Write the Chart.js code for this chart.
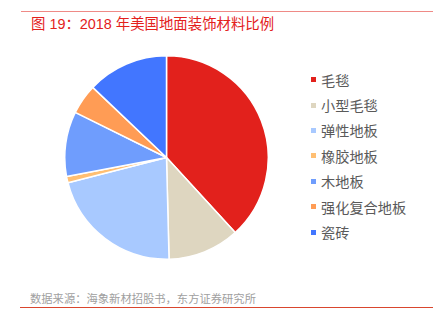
<!DOCTYPE html>
<html>
<head>
<meta charset="utf-8">
<script src="https://cdn.jsdelivr.net/npm/chart.js@4"></script>
<style>
  body { margin: 0; background: #fff; font-family: "Liberation Sans", "Noto Sans CJK SC", sans-serif; }
  #wrap { position: relative; width: 433px; height: 331px; overflow: hidden; }
  #topline { position: absolute; left: 21px; right: 0; top: 11px; height: 1px; background: #ef8a86; }
  #title { position: absolute; left: 31px; top: 12px; font-size: 14.4px; color: #e3211c; white-space: nowrap; }
  #pie { position: absolute; left: 64px; top: 55px; width: 205px; height: 205px; }
  #legend { position: absolute; left: 311px; top: 67px; }
  .item { height: 25.4px; display: flex; align-items: center; font-size: 14.2px; color: #5a5a5a; }
  .box { width: 5px; height: 5px; margin-right: 5px; }
  #source { position: absolute; left: 30px; top: 290px; font-size: 11.3px; color: #a0a0a0; white-space: nowrap; }
  #botline { position: absolute; left: 20px; right: 0; top: 307px; height: 1px; background: #d9462e; }
</style>
</head>
<body>
<div id="wrap">
  <div id="topline"></div>
  <div id="title">图 19：2018 年美国地面装饰材料比例</div>
  <div id="pie"><canvas id="c" width="205" height="205"></canvas></div>
  <div id="legend"></div>
  <div id="source">数据来源：海象新材招股书，东方证券研究所</div>
  <div id="botline"></div>
</div>
<script>
const categories = ['毛毯', '小型毛毯', '弹性地板', '橡胶地板', '木地板', '强化复合地板', '瓷砖'];
const shares = [38.2, 11.4, 21.4, 1.0, 10.3, 4.8, 12.9];
const colors = ['#e2211c', '#ded6c0', '#a8c9ff', '#ffbf73', '#6f9dfd', '#ff9c55', '#4276ff'];

new Chart(document.getElementById('c'), {
  type: 'pie',
  data: {
    labels: categories,
    datasets: [{
      data: shares,
      backgroundColor: colors,
      borderColor: '#ffffff',
      borderWidth: 1.5
    }]
  },
  options: {
    responsive: false,
    animation: false,
    layout: { padding: 0 },
    plugins: { legend: { display: false }, tooltip: { enabled: false } }
  }
});

const legend = document.getElementById('legend');
categories.forEach((name, i) => {
  const row = document.createElement('div');
  row.className = 'item';
  row.innerHTML = '<span class="box" style="background:' + colors[i] + '"></span>' + name;
  legend.appendChild(row);
});
</script>
</body>
</html>
